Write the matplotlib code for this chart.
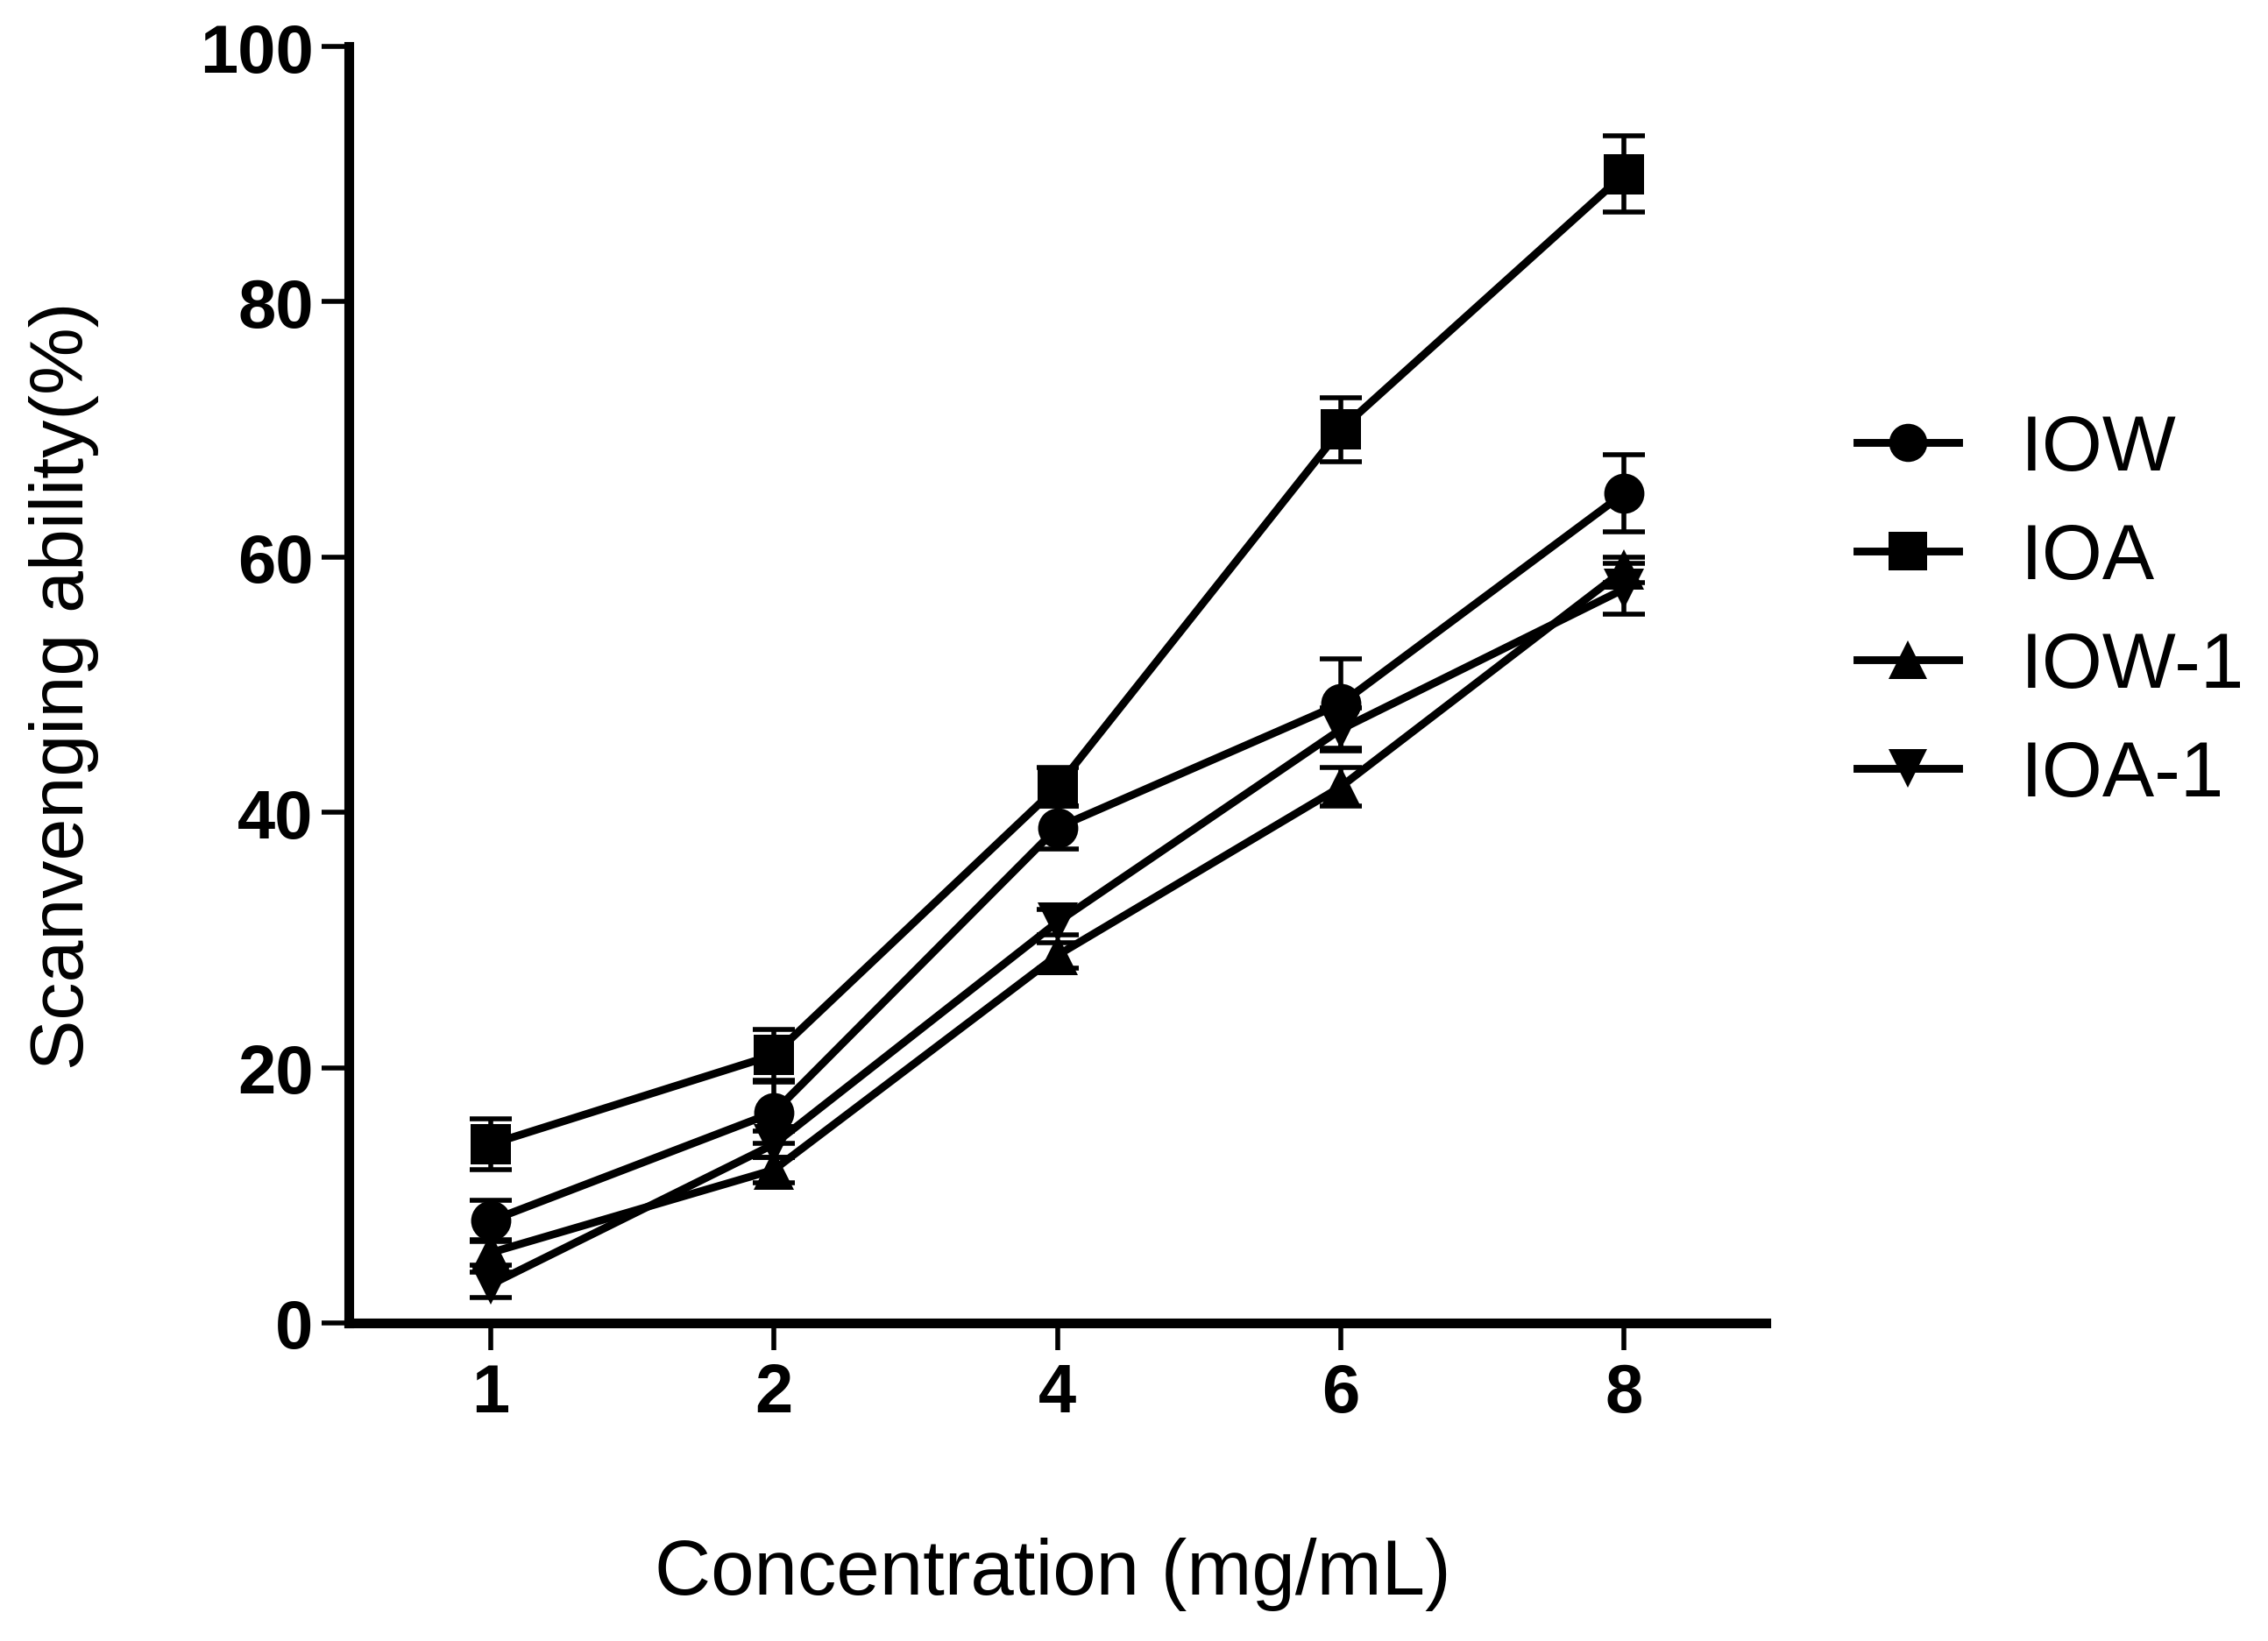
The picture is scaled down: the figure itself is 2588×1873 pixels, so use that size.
import matplotlib
matplotlib.use("Agg")
import matplotlib.pyplot as plt
import numpy as np

plt.rcParams['font.family'] = ['Liberation Sans', 'DejaVu Sans']

concentrations = ['1', '2', '4', '6', '8']
series_names = ['IOW', 'IOA', 'IOW-1', 'IOA-1']
iow = [8.0, 16.5, 38.8, 48.5, 65.0]
iow_err = [1.6, 2.4, 1.7, 3.5, 3.0]
ioa = [14.0, 21.0, 42.0, 70.0, 90.0]
ioa_err = [2.0, 2.0, 1.5, 2.5, 3.0]
iow1 = [5.5, 12.0, 28.8, 42.0, 59.0]
iow1_err = [1.0, 1.0, 1.0, 1.5, 1.0]
ioa1 = [3.0, 14.0, 31.4, 46.5, 57.5]
ioa1_err = [1.0, 1.0, 1.0, 1.7, 2.0]
markers = ['o', 's', '^', 'v']
yticks = [0, 20, 40, 60, 80, 100]

W, H = 2588, 1874
dpi = 200
fig = plt.figure(figsize=(W / dpi, H / dpi), dpi=dpi)
ax = fig.add_axes([398 / W, 1 - 1511 / H, (2015 - 398) / W, (1511 - 54) / H])

x = np.arange(len(concentrations))
data = [(iow, iow_err), (ioa, ioa_err), (iow1, iow1_err), (ioa1, ioa1_err)]
handles = []
for name, (vals, errs), m in zip(series_names, data, markers):
    ax.errorbar(x, vals, yerr=errs, color='black', ecolor='black',
                elinewidth=2.0, capsize=8.5, capthick=2.0, zorder=2)
    h, = ax.plot(x, vals, color='black', lw=3.2, marker=m, ms=16.5,
                 markeredgewidth=0, label=name, zorder=3)
    handles.append(h)

ax.set_xlim(-0.5, 4.5)
ax.set_ylim(0, 100)
ax.set_xticks(x)
ax.set_xticklabels(concentrations)
ax.set_yticks(yticks)
for s in ['top', 'right']:
    ax.spines[s].set_visible(False)
for s in ['left', 'bottom']:
    ax.spines[s].set_linewidth(4)
ax.tick_params(axis='both', direction='out', width=2, length=11,
               labelsize=28, color='black')
ax.tick_params(axis='x', pad=5)
ax.tick_params(axis='y', pad=3.5)
for lab in ax.get_xticklabels() + ax.get_yticklabels():
    lab.set_fontweight('bold')

ax.set_xlabel('Concentration (mg/mL)', fontsize=32, va='center')
ax.xaxis.set_label_coords(0.497, -0.196)
ax.set_ylabel('Scanvenging ability(%)', fontsize=31, va='center')
ax.yaxis.set_label_coords(-0.201, 0.5)

fig.legend(handles=handles, labels=series_names, loc='upper left',
           bbox_to_anchor=(2119 / W, 1 - 472 / H), bbox_transform=fig.transFigure,
           frameon=False, fontsize=32, handlelength=1.3, handletextpad=0.8,
           labelspacing=0.45, borderpad=0, borderaxespad=0, markerscale=0.95)

fig.savefig('out.png', dpi=dpi)
